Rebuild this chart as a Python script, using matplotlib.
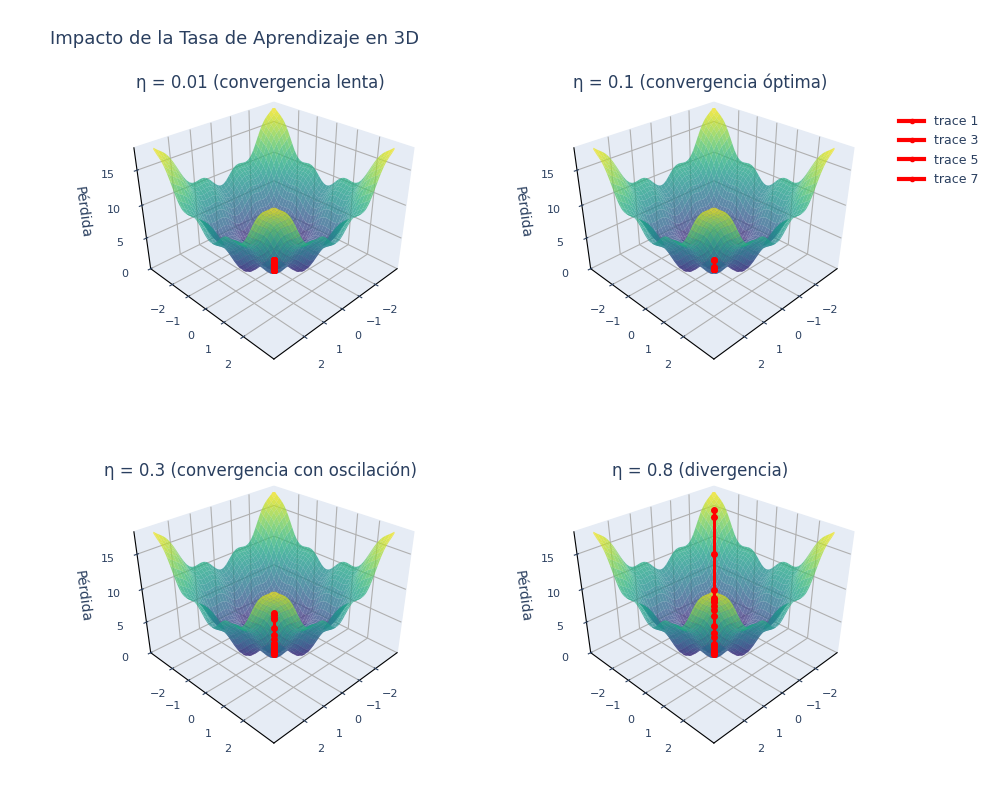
import numpy as np
import matplotlib
matplotlib.use("Agg")
import matplotlib.pyplot as plt
from matplotlib.lines import Line2D

titles = ["η = 0.01 (convergencia lenta)", "η = 0.1 (convergencia óptima)",
          "η = 0.3 (convergencia con oscilación)", "η = 0.8 (divergencia)"]
rates = [0.01, 0.1, 0.3, 0.8]
start = [0.8, 0.8]
n_steps = [50, 20, 20, 20]
legend_labels = ["trace 1", "trace 3", "trace 5", "trace 7"]
z_ticks = [0, 5, 10, 15]

def loss(x, y):
    return x**2 + y**2 + 1.5*np.sin(2*x)**2 + 1.5*np.sin(2*y)**2

def grad(x, y):
    return np.array([2*x + 6*np.sin(2*x)*np.cos(2*x), 2*y + 6*np.sin(2*y)*np.cos(2*y)])

g = np.linspace(-3, 3, 80)
X, Y = np.meshgrid(g, g)
Z = loss(X, Y)
Z = np.where(Z > 18, np.nan, Z)

fig = plt.figure(figsize=(10, 8), dpi=100)
fig.text(0.05, 0.945, "Impacto de la Tasa de Aprendizaje en 3D", fontsize=13, color="#2a3f5f")
pos = [(0.06, 0.55, 0.42, 0.36), (0.50, 0.55, 0.42, 0.36),
       (0.06, 0.07, 0.42, 0.36), (0.50, 0.07, 0.42, 0.36)]
title_y = [0.89, 0.89, 0.405, 0.405]
title_x = [0.26, 0.70, 0.26, 0.70]
for i in range(4):
    ax = fig.add_axes(pos[i], projection="3d")
    ax.set_proj_type("persp", focal_length=0.35)
    ax.plot_surface(X, Y, Z, cmap="viridis", alpha=0.75, linewidth=0, antialiased=True,
                    vmin=0, vmax=18)
    p = np.array(start, float)
    path = [p.copy()]
    for _ in range(n_steps[i]):
        p = p - rates[i]*grad(*p)
        p = np.clip(p, -3, 3)
        path.append(p.copy())
    path = np.array(path)
    pz = loss(path[:, 0], path[:, 1])
    ax.plot(path[:, 0], path[:, 1], pz, color="red", marker="o", ms=4, lw=2, zorder=10)
    ax.set_zlim(0, 18)
    ax.set_zticks(z_ticks)
    ax.set_zlabel("Pérdida", color="#2a3f5f")
    ax.set_xticks([-2, -1, 0, 1, 2]); ax.set_yticks([-2, -1, 0, 1, 2])
    ax.tick_params(labelsize=8, colors="#2a3f5f")
    ax.view_init(elev=30, azim=45)
    for a in (ax.xaxis, ax.yaxis, ax.zaxis):
        a.set_pane_color((0.90, 0.925, 0.96, 1.0))
    fig.text(title_x[i], title_y[i], titles[i], fontsize=12, color="#2a3f5f", ha="center")

handles = [Line2D([0], [0], color="red", lw=3, marker="o", ms=3) for _ in legend_labels]
fig.legend(handles, legend_labels, loc="upper right", bbox_to_anchor=(0.99, 0.87),
           frameon=False, fontsize=9, labelcolor="#2a3f5f")
fig.savefig("out.png")
